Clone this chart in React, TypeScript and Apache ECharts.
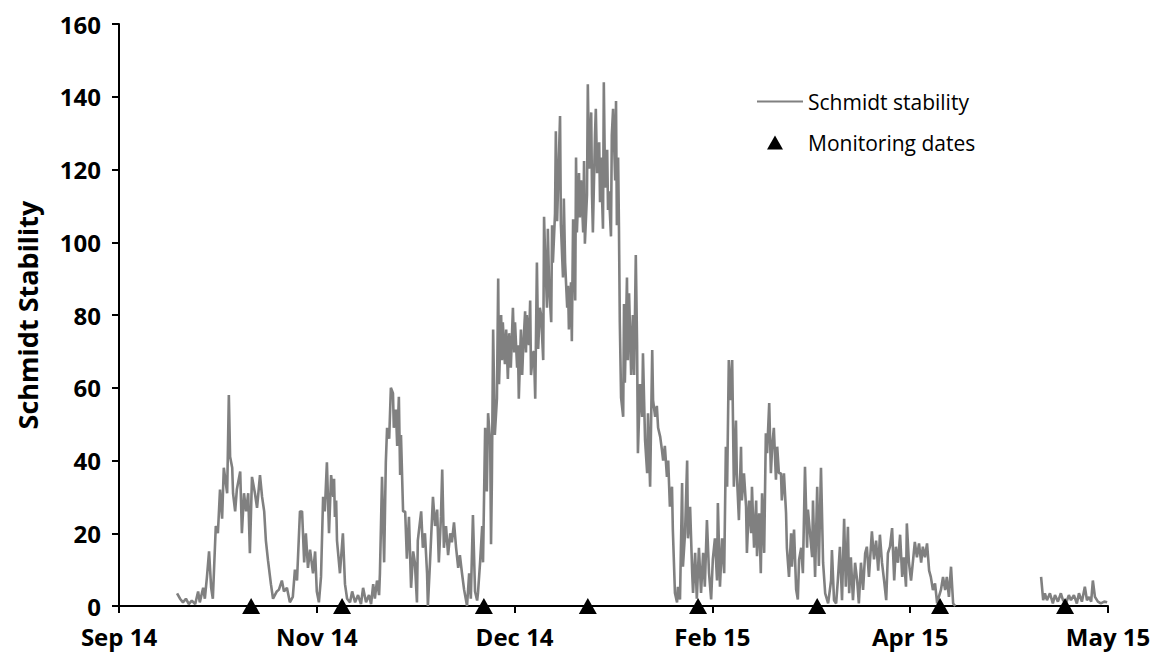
import { useEffect, useRef } from "react";
import * as echarts from "echarts";

// Day offsets are counted from 28 Sep 2014; axis labels every 47 days.
const tickLabels = ["Sep 14", "Nov 14", "Dec 14", "Feb 15", "Apr 15", "May 15"];
const tickStep = 47;
const axisEnd = 235;

// Field sampling visits (day offsets)
const monitoringDays = [31.4, 53.0, 86.7, 111.4, 137.6, 165.9, 195.1, 224.8];

// Schmidt stability record, [day offset, stability]
const octoberRecord: [number, number][] = [
  [13.8, 3.5], [14.5, 2], [15.2, 1], [15.9, 2], [16.6, 0.5], [17.3, 1.5], [18.1, 0.5], [18.8, 4],
  [19.2, 1], [20.0, 5], [20.4, 2], [20.9, 8], [21.4, 15], [21.9, 5], [22.3, 2], [23.0, 22],
  [23.5, 20], [24.0, 32], [24.5, 24], [24.9, 38], [25.7, 31], [26.1, 58], [26.4, 41], [26.9, 38],
  [27.1, 31], [27.6, 26], [28.0, 32], [28.8, 37], [29.2, 20], [29.7, 31], [30.2, 26], [30.7, 31],
  [31.1, 14.5], [31.6, 35.5], [32.3, 31], [32.8, 27], [33.5, 36], [34.0, 30], [34.5, 26], [34.9, 18],
  [35.4, 12.6], [36.1, 6], [36.6, 2], [37.5, 4], [38.0, 4.5], [38.7, 7], [39.2, 4], [39.9, 5],
  [40.6, 1], [41.3, 2.5], [41.8, 10], [42.3, 7], [43.0, 26], [43.5, 26], [44.0, 12], [44.4, 20],
  [44.9, 10.5], [45.4, 15.5], [46.1, 9], [46.6, 15], [47.0, 4], [47.5, 1], [48.0, 8], [48.5, 30],
  [48.9, 26], [49.4, 39.5], [49.9, 20], [50.4, 36], [50.9, 30], [51.1, 35], [51.3, 24.5], [51.6, 29],
  [51.8, 18], [52.5, 9], [53.2, 20], [53.7, 6],
];

const novemberRecord: [number, number][] = [
  [54.2, 2], [54.9, 1], [55.4, 4], [56.1, 1], [56.8, 3], [57.5, 0.5], [58.0, 5], [58.7, 1],
  [59.4, 3], [59.9, 0.5], [60.4, 6], [60.8, 2], [61.3, 7], [61.8, 3], [62.0, 9], [62.5, 35.5],
  [63.0, 12], [63.4, 39.5], [63.7, 49], [64.2, 46], [64.6, 60], [65.1, 58.5], [65.3, 49], [65.8, 54],
  [66.1, 44], [66.5, 57.5], [66.8, 36], [67.0, 47], [67.5, 26], [68.0, 26], [68.4, 13], [68.9, 24.5],
  [69.4, 5], [69.9, 15], [70.3, 12], [70.8, 1], [71.0, 18], [71.8, 26], [72.2, 16], [72.7, 20],
  [73.2, 9], [73.4, 0], [73.9, 12], [74.6, 30], [75.1, 22], [75.6, 26.5], [76.0, 12], [76.5, 24.5],
  [76.8, 37.5], [77.2, 16], [77.7, 22], [78.2, 14], [78.7, 20], [79.1, 17.5], [79.6, 23], [80.1, 16],
  [80.6, 10.5], [81.0, 14], [81.5, 9], [82.0, 4.5], [82.7, 0], [83.2, 9], [83.6, 2], [84.1, 25],
  [84.6, 4], [85.1, 1.5], [85.3, 3.6], [85.8, 12], [86.3, 22], [86.5, 12],
];

const summerRecord: [number, number][] = [
  [87.0, 49], [87.4, 31.5], [87.7, 53], [88.2, 45], [88.4, 17], [88.6, 34.5], [88.9, 76], [89.3, 47],
  [89.8, 57], [90.1, 90], [90.3, 61], [90.8, 80], [91.0, 67.6], [91.2, 78], [91.7, 66.5], [92.0, 76],
  [92.4, 62.4], [92.7, 75], [93.1, 65.5], [93.6, 82], [93.9, 69.7], [94.1, 78], [94.6, 65.5], [94.8, 71.7],
  [95.0, 57], [95.5, 76], [95.8, 63.5], [96.0, 69.7], [96.5, 81], [96.7, 69.7], [96.9, 80], [97.4, 71.7],
  [97.7, 84], [97.9, 63.5], [98.4, 69.7], [98.6, 70], [98.9, 57], [99.3, 94.4], [99.6, 70.7], [100.0, 82],
  [100.3, 80], [100.8, 67.6], [101.0, 107], [101.2, 98.5], [101.7, 82], [101.9, 103.7], [102.2, 88], [102.7, 78],
  [102.9, 104.7], [103.1, 94.4], [103.6, 107.8], [103.8, 130.5], [104.1, 105.8], [104.6, 126.4], [104.8, 134.7], [105.0, 104.7],
  [105.5, 90.3], [105.7, 112], [106.0, 94.4], [106.5, 82], [106.7, 88], [106.9, 76], [107.4, 89], [107.6, 72.8],
  [107.9, 106.3], [108.4, 84], [108.6, 123.3], [108.8, 102.7], [109.3, 119], [109.5, 106.8], [109.8, 117], [110.3, 102.7],
  [110.5, 122.3], [110.7, 99.6], [111.2, 113], [111.4, 143.4], [111.7, 120.2], [112.2, 135.7], [112.4, 113], [112.6, 102.7],
  [113.1, 129.5], [113.3, 136.7], [113.6, 119], [114.1, 127.5], [114.3, 111], [114.5, 123.3], [115.0, 103.7], [115.2, 144],
  [115.5, 115], [116.0, 125.4], [116.2, 108.9], [116.4, 114], [116.9, 101.6], [117.1, 129.5], [117.4, 136.7], [117.9, 117],
  [118.1, 138.8], [118.3, 104.7], [118.6, 123.3], [118.8, 103.7], [119.0, 78], [119.3, 57.3], [119.8, 52], [120.0, 83],
  [120.2, 61.4], [120.7, 90.3], [120.9, 67.6], [121.2, 86], [121.7, 63.5], [122.1, 80], [122.4, 63.5], [122.8, 96.5],
  [123.1, 72], [123.3, 42],
];

const autumnRecord: [number, number][] = [
  [123.8, 61], [124.3, 52], [124.5, 69.5], [125.0, 45.6], [125.5, 36.5], [125.7, 53], [126.2, 32.8], [126.7, 70.4],
  [126.9, 56.6], [127.4, 52], [127.8, 55], [128.1, 49], [128.6, 46.5], [129.0, 43], [129.3, 40], [129.7, 44],
  [130.2, 35.5], [130.5, 40], [130.9, 27.3], [131.4, 32.8], [131.6, 21], [132.1, 3.6], [132.6, 1], [132.8, 5.3],
  [133.3, 1.8], [133.8, 33.8], [134.0, 10.8], [134.5, 20], [135.0, 40], [135.2, 18.6], [135.7, 27.3], [136.2, 9],
  [136.4, 3.6], [136.9, 14.6], [137.3, 2], [137.8, 16], [138.3, 3.6], [138.8, 14.6], [139.2, 5.3], [139.7, 23.6],
  [140.2, 9], [140.7, 1.8], [141.1, 12.8], [141.6, 18.6], [142.1, 7], [142.3, 28.3], [142.8, 5.3], [143.3, 18.6],
  [143.8, 9], [144.2, 43.8], [144.5, 32.8], [144.9, 67.6], [145.4, 56.6], [145.7, 67.6], [146.1, 32.8], [146.6, 51],
  [146.8, 36.5], [147.3, 23.6], [147.8, 43.8], [148.0, 29], [148.5, 36.5], [149.0, 27.3], [149.2, 14.6], [149.7, 29],
  [150.2, 20], [150.4, 32.8], [150.9, 16], [151.4, 29], [151.6, 13.7], [152.1, 25.5], [152.5, 9], [152.8, 31],
  [153.3, 14.6], [153.7, 47.5], [154.0, 42], [154.5, 55.8], [154.9, 36.5], [155.2, 43.8], [155.6, 49], [156.1, 34.7],
  [156.4, 43.8], [156.8, 36.5], [157.3, 36.5], [157.5, 29], [158.0, 36.5], [158.5, 25.5], [158.7, 16], [159.2, 8],
  [159.7, 20], [159.9, 10.8], [160.4, 21], [160.9, 4.5], [161.3, 1.8], [161.6, 12.8], [162.1, 16], [162.5, 9],
  [163.0, 38.3], [163.5, 16], [163.7, 26.5], [164.2, 20], [164.7, 13.4], [164.9, 29], [165.4, 8], [165.9, 32.8],
  [166.3, 11], [166.8, 38], [167.3, 11.9], [167.8, 3.5], [168.5, 0.7], [169.2, 7], [169.4, 15.4], [169.9, 1.6],
  [170.4, 0.7], [170.8, 7], [171.3, 16.3], [171.8, 1.6], [172.3, 24], [172.7, 5.3], [173.2, 21.8], [173.5, 3.5],
  [173.9, 13.4], [174.4, 1.6], [174.9, 11.9], [175.4, 7], [175.8, 0.7], [176.3, 11.9], [176.8, 4.4], [177.3, 14.5],
  [177.7, 16.3], [178.2, 8], [178.9, 20.5], [179.4, 12.8], [179.9, 18], [180.4, 9.7], [180.8, 19.6], [181.3, 11.9],
  [181.8, 7], [182.3, 1.6], [182.7, 14.5], [183.2, 16.3], [183.7, 21.4], [184.2, 7], [184.6, 16.3], [185.1, 11.9],
  [185.6, 19.6], [186.1, 8], [186.5, 13.4], [187.0, 5.3], [187.2, 22.7], [187.7, 11.9], [188.2, 7], [188.7, 12.8],
  [189.1, 17.6], [189.6, 13.4], [190.1, 17.2], [190.6, 11.9], [191.0, 16.3], [191.5, 13.4], [192.0, 17.2], [192.5, 9.7],
  [192.9, 8], [193.4, 4.4], [193.9, 6.2], [194.4, 0.7], [194.8, 2.5], [195.3, 4.4], [195.8, 8], [196.3, 4.4],
  [196.7, 8], [197.2, 2.5], [197.7, 10.8], [198.2, 0.7], [198.7, 0],
];

const mayRecord: [number, number][] = [
  [219.1, 8], [219.6, 1.6], [220.0, 3.5], [220.5, 1.6], [221.2, 3.5], [221.9, 0.7], [222.4, 3], [223.1, 1.2],
  [223.8, 3.5], [224.3, 1.6], [225.0, 0.7], [225.7, 3], [226.2, 1.6], [226.9, 3], [227.6, 0.7], [228.1, 3.5],
  [228.8, 1.2], [229.5, 5.3], [230.0, 1.6], [230.5, 2.5], [231.0, 1.2], [231.4, 7], [231.9, 2.5], [232.6, 1.2],
  [233.3, 0.7], [234.1, 1.2], [234.8, 1],
];

const FONT = '"Open Sans", "DejaVu Sans", sans-serif';
const LINE_GREY = "#808080";

export default function App() {
  const ref = useRef<HTMLDivElement>(null);

  useEffect(() => {
    if (!ref.current) return;
    const chart = echarts.init(ref.current, undefined, { renderer: "svg" });

    // logger gap between late April and May breaks the line
    const stability: any[] = [
      ...octoberRecord,
      ...novemberRecord,
      ...summerRecord,
      ...autumnRecord,
      [208, "-"],
      ...mayRecord,
    ];

    chart.setOption({
      animation: false,
      backgroundColor: "#ffffff",
      textStyle: { fontFamily: FONT, color: "#000" },
      grid: { left: 119, right: 50, top: 24, bottom: 49, containLabel: false },
      xAxis: {
        type: "value",
        min: 0,
        max: axisEnd,
        interval: tickStep,
        axisLine: { show: true, lineStyle: { color: "#000", width: 2 } },
        axisTick: { show: true, length: 7, lineStyle: { color: "#000", width: 2 } },
        splitLine: { show: false },
        axisLabel: {
          formatter: (v: number) => tickLabels[Math.round(v / tickStep)] ?? "",
          color: "#000",
          fontWeight: "bold",
          fontSize: 24,
          fontFamily: FONT,
          margin: 18,
        },
      },
      yAxis: {
        type: "value",
        min: 0,
        max: 160,
        interval: 20,
        name: "Schmidt Stability",
        nameLocation: "middle",
        nameGap: 78,
        nameTextStyle: { fontSize: 27, fontWeight: "bold", color: "#000", fontFamily: FONT },
        axisLine: { show: true, lineStyle: { color: "#000", width: 2 } },
        axisTick: { show: true, length: 7, lineStyle: { color: "#000", width: 2 } },
        splitLine: { show: false },
        axisLabel: {
          color: "#000",
          fontWeight: "bold",
          fontSize: 24,
          fontFamily: FONT,
          margin: 18,
        },
      },
      legend: [
        {
          data: [{ name: "Schmidt stability", icon: "rect" }],
          left: 752,
          top: 86,
          itemWidth: 46,
          itemHeight: 2,
          itemStyle: { color: LINE_GREY, opacity: 1 },
          textStyle: { fontSize: 21, color: "#000", fontFamily: FONT },
        },
        {
          data: [{ name: "Monitoring dates", icon: "triangle" }],
          left: 762,
          top: 127,
          itemWidth: 16,
          itemHeight: 14,
          itemStyle: { color: "#000", opacity: 1 },
          textStyle: { fontSize: 21, color: "#000", fontFamily: FONT, padding: [0, 0, 0, 20] },
        },
      ],
      series: [
        {
          name: "Schmidt stability",
          type: "line",
          data: stability,
          symbol: "none",
          showSymbol: false,
          connectNulls: false,
          lineStyle: { color: LINE_GREY, width: 2.6 },
          itemStyle: { color: LINE_GREY },
          z: 2,
        },
        {
          name: "Monitoring dates",
          type: "scatter",
          data: monitoringDays.map((d) => [d, 0]),
          symbol: "triangle",
          symbolSize: [18, 16],
          itemStyle: { color: "#000", opacity: 1 },
          clip: false,
          z: 5,
        },
      ],
    });

    return () => chart.dispose();
  }, []);

  return (
    <div
      ref={ref}
      style={{ position: "fixed", left: 0, top: 0, width: 1158, height: 655, background: "#fff" }}
    />
  );
}
